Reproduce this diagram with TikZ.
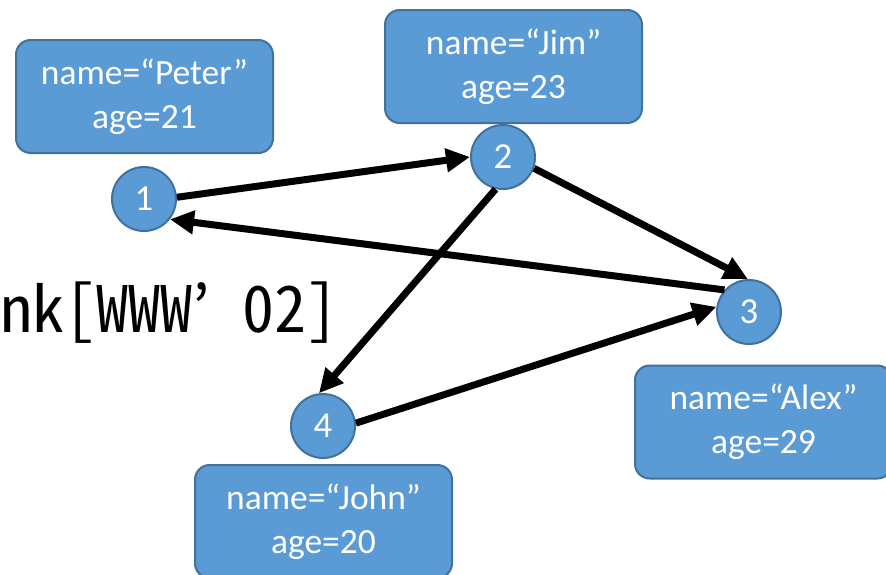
\documentclass[tikz,border=0pt]{standalone}
\usepackage{fontspec}
\setmainfont{Carlito}
\newfontfamily\jpfont[RawFeature=+hwid]{Noto Sans CJK JP}
\usepackage{xcolor}
\usepackage{tikz}
\usetikzlibrary{arrows.meta}
\definecolor{nodeblue}{HTML}{5B9BD5}
\definecolor{nodeedge}{HTML}{41719C}

\begin{document}
\begin{tikzpicture}[x=0.75pt,y=-0.75pt,
    vertex/.style={circle, fill=nodeblue, draw=nodeedge, line width=1.5pt,
        minimum size=48pt, inner sep=0pt, text=white,
        font=\fontsize{27.5}{33}\selectfont},
    info/.style={rounded corners=11pt, fill=nodeblue, draw=nodeedge, line width=1.5pt,
        minimum width=192.75pt, minimum height=84.75pt, inner sep=0pt,
        align=center, text=white, font=\fontsize{26.6}{33}\selectfont},
    link/.style={line width=5.25pt, -{Triangle[length=18pt,width=17pt]}}]
        % Canvas
        \useasboundingbox (0,0) rectangle (886,575);
        \clip (0,0) rectangle (886,575);

        % Title fragment
        \node[anchor=base west, inner sep=0pt, font=\jpfont\fontsize{48}{50}\selectfont]
            (title) at (0,332) {nk[WWW’ 02]};

        % Attribute boxes
        \node[info] (peter) at (144.5,96.5) {name=“Peter”\\age=21};
        \node[info] (jim)   at (513.5,66.5) {name=“Jim”\\age=23};
        \node[info] (alex)  at (763.5,422)  {name=“Alex”\\age=29};
        \node[info] (john)  at (323.5,521.5) {name=“John”\\age=20};

        % Vertices
        \node[vertex] (n1) at (144,199) {1};
        \node[vertex] (n2) at (503,157) {2};
        \node[vertex] (n3) at (749,312) {3};
        \node[vertex] (n4) at (323,426) {4};

        % Links
        \draw[link] (n1.3) -- (n2.180);
        \draw[link] (n2.-20) -- (n3.92);
        \draw[link] (n2.-103) -- (n4.97);
        \draw[link] (n4.5) -- (n3.171);
        \draw[link] (n3.138) -- (n1.-38);
\end{tikzpicture}
\end{document}
